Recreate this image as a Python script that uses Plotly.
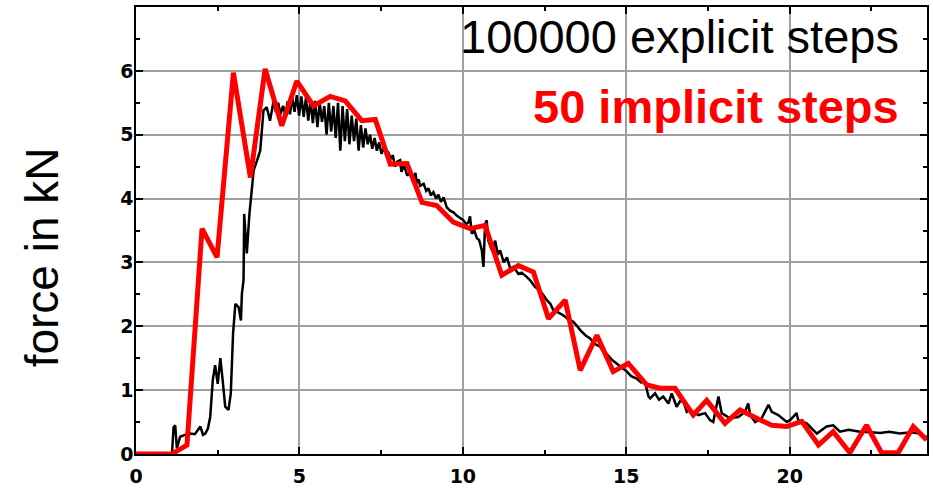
import plotly.graph_objects as go

# 50 implicit steps (red)
imp_x = [0.0, 1.1, 1.56, 2.02, 2.48, 2.98, 3.5, 3.95, 4.46, 4.92, 5.43, 5.94, 6.4, 6.91, 7.32,
         7.78, 8.29, 8.75, 9.2, 9.71, 10.22, 10.68, 11.19, 11.7, 12.16, 12.62, 13.13, 13.59,
         14.1, 14.6, 15.06, 15.63, 16.03, 16.49, 17.05, 17.46, 18.02, 18.48, 18.99, 19.45,
         19.91, 20.37, 20.88, 21.33, 21.84, 22.35, 22.81, 23.32, 23.78, 24.19]
imp_y = [0.0, 0.0, 0.14, 3.53, 3.08, 5.97, 4.33, 6.03, 5.14, 5.84, 5.45, 5.6, 5.53, 5.22, 5.24,
         4.54, 4.55, 3.94, 3.89, 3.63, 3.53, 3.58, 2.8, 2.95, 2.85, 2.12, 2.41, 1.31,
         1.86, 1.29, 1.42, 1.08, 1.03, 1.03, 0.61, 0.84, 0.48, 0.69, 0.56, 0.45,
         0.43, 0.51, 0.14, 0.35, 0.02, 0.45, 0.02, 0.02, 0.43, 0.22]

# 100000 explicit steps (black)
exp_x = [0.0, 1.1, 1.15, 1.2, 1.25, 1.35, 1.5, 1.66, 1.8, 1.97, 2.05, 2.12, 2.2, 2.27, 2.35, 2.42,
         2.5, 2.58, 2.65, 2.73, 2.83, 2.9, 2.97, 3.04, 3.14, 3.21, 3.24, 3.29, 3.31, 3.39,
         3.47, 3.6, 3.7, 3.8, 3.9, 4.0, 4.1, 4.21, 4.28, 4.35, 4.42, 4.5, 4.57, 4.64, 4.71,
         4.78, 4.85, 4.92, 4.99, 5.06, 5.13, 5.2, 5.27, 5.34, 5.41, 5.48, 5.55, 5.62, 5.69,
         5.76, 5.83, 5.9, 5.97, 6.04, 6.11, 6.18, 6.25, 6.32, 6.39, 6.46, 6.53, 6.6, 6.67,
         6.74, 6.81, 6.88, 6.95, 7.02, 7.09, 7.16, 7.23, 7.3, 7.37, 7.44, 7.51, 7.58, 7.65,
         7.72, 7.8, 7.86, 7.92, 8.0, 8.08, 8.12, 8.2, 8.3, 8.4, 8.49, 8.55, 8.59, 8.65, 8.69,
         8.8, 8.88, 8.95, 9.02, 9.1, 9.18, 9.25, 9.33, 9.41, 9.51, 9.61, 9.72, 9.82, 9.92,
         10.02, 10.1, 10.17, 10.22, 10.27, 10.35, 10.43, 10.5, 10.58, 10.63, 10.68,
         10.73, 10.78, 10.89, 10.99, 11.07, 11.14, 11.25, 11.35, 11.45, 11.55, 11.7, 11.8,
         11.96, 12.06, 12.2, 12.36, 12.45, 12.57, 12.68, 12.77, 12.9, 13.08, 13.2, 13.38,
         13.5, 13.59, 13.75, 13.89, 14.05, 14.2, 14.3, 14.4, 14.55, 14.71, 14.85, 15.02,
         15.15, 15.32, 15.45, 15.57, 15.68, 15.73, 15.88, 16.0, 16.13, 16.29, 16.39, 16.54,
         16.65, 16.75, 16.85, 16.95, 17.1, 17.21, 17.41, 17.56, 17.66, 17.82, 17.92, 18.17,
         18.43, 18.63, 18.73, 18.79, 18.94, 19.14, 19.35, 19.45, 19.65, 19.91, 20.01, 20.21,
         20.26, 20.52, 20.83, 21.13, 21.33, 21.54, 21.8, 22.15, 22.5, 22.76, 23.05, 23.37,
         23.7, 23.98, 24.14, 24.2]
exp_y = [0.0, 0.0, 0.42, 0.45, 0.09, 0.27, 0.3, 0.32, 0.31, 0.43, 0.3, 0.32, 0.4, 0.58, 1.16, 1.39,
         1.1, 1.5, 1.16, 0.74, 0.69, 0.95, 1.89, 2.35, 2.3, 2.09, 2.51, 2.72, 3.76, 3.14,
         3.76, 4.44, 4.59, 4.75, 5.38, 5.43, 5.22, 5.53, 5.35, 5.5, 5.32, 5.45, 5.3, 5.52, 5.32,
         5.58, 5.36, 5.62, 5.3, 5.6, 5.28, 5.58, 5.22, 5.55, 5.18, 5.53, 5.12, 5.5, 5.2,
         5.45, 5.0, 5.5, 5.05, 5.45, 4.95, 5.5, 4.75, 5.45, 4.9, 5.4, 4.85, 5.3, 4.9,
         5.25, 4.75, 5.15, 4.8, 5.1, 4.85, 5.0, 4.78, 4.95, 4.75, 4.88, 4.7, 4.8, 4.7,
         4.72, 4.62, 4.68, 4.5, 4.58, 4.6, 4.42, 4.52, 4.36, 4.42, 4.32, 4.4, 4.24, 4.3, 4.2,
         4.23, 4.12, 4.16, 4.05, 4.1, 4.0, 4.06, 3.95, 4.02, 3.86, 3.81, 3.78, 3.73, 3.7,
         3.66, 3.6, 3.63, 3.72, 3.45, 3.5, 3.38, 3.35, 3.19, 2.93, 3.6,
         3.66, 3.34, 3.19, 3.34, 3.12, 3.19, 3.0, 3.08, 2.9, 2.93, 2.82, 2.84,
         2.77, 2.72, 2.62, 2.56, 2.5, 2.41, 2.35, 2.25, 2.22, 2.17, 2.12, 2.07,
         2.0, 1.94, 1.86, 1.81, 1.72, 1.68, 1.6, 1.57, 1.48, 1.42, 1.36, 1.29,
         1.22, 1.18, 1.12, 1.13, 0.9, 0.87, 0.95, 0.85, 0.9, 0.79, 0.95, 0.74,
         0.83, 0.82, 0.66, 0.69, 0.64, 0.61, 0.64, 0.53, 0.5, 0.9, 0.64, 0.56,
         0.58, 0.66, 0.79, 0.61, 0.5, 0.56, 0.77, 0.66, 0.61, 0.5, 0.53, 0.64,
         0.53, 0.48, 0.32, 0.43, 0.45, 0.35, 0.38, 0.35, 0.34, 0.33, 0.35, 0.32,
         0.34, 0.32, 0.27, 0.27]

x_ticks = [0, 5, 10, 15, 20]
y_ticks = [0, 1, 2, 3, 4, 5, 6]
label_explicit = "100000 explicit steps"
label_implicit = "50 implicit steps"
y_title = "force in kN"

fig = go.Figure()
fig.add_trace(go.Scatter(x=exp_x, y=exp_y, mode="lines",
                         line=dict(color="black", width=2.5), showlegend=False))
fig.add_trace(go.Scatter(x=imp_x, y=imp_y, mode="lines",
                         line=dict(color="#ff0000", width=5), showlegend=False))

tickfont = dict(family="DejaVu Sans", size=19, color="black", weight="bold")
fig.update_xaxes(range=[0, 24.2], tickvals=x_ticks, showgrid=True, gridcolor="#a0a0a0",
                 gridwidth=1.5, zeroline=False, showline=True, linecolor="black", linewidth=1.5,
                 mirror="ticks", ticks="inside", ticklen=7, tickwidth=1.5, tickcolor="black",
                 tickfont=tickfont, ticklabelstandoff=4, automargin=False,
                 minor=dict(tickvals=[2.5, 7.5, 12.5, 17.5, 22.5], ticks="inside", ticklen=4,
                            tickwidth=1.5, tickcolor="black", showgrid=False))
fig.update_yaxes(range=[0, 7], tickvals=y_ticks, showgrid=True, gridcolor="#a0a0a0",
                 gridwidth=1.5, zeroline=False, showline=True, linecolor="black", linewidth=1.5,
                 mirror="ticks", ticks="inside", ticklen=7, tickwidth=1.5, tickcolor="black",
                 tickfont=tickfont, ticklabelstandoff=-3, automargin=False,
                 minor=dict(tickvals=[0.5, 1.5, 2.5, 3.5, 4.5, 5.5, 6.5], ticks="inside",
                            ticklen=4, tickwidth=1.5, tickcolor="black", showgrid=False))

fig.add_annotation(text=label_explicit, xref="paper", yref="paper", x=0.967, y=0.933,
                   xanchor="right", yanchor="middle", showarrow=False,
                   font=dict(family="Liberation Sans", size=47, color="black"))
fig.add_annotation(text=label_implicit, xref="paper", yref="paper", x=0.967, y=0.777,
                   xanchor="right", yanchor="middle", showarrow=False,
                   font=dict(family="Liberation Sans", size=47, color="#ff0000", weight="bold"))
fig.add_annotation(text=y_title, xref="paper", yref="paper", x=(42 - 136) / 791, y=0.44,
                   xanchor="center", yanchor="middle", textangle=-90, showarrow=False,
                   font=dict(family="Liberation Sans", size=46, color="black"))

fig.update_layout(width=933, height=491, autosize=False,
                  margin=dict(l=136, r=6, t=7, b=37, autoexpand=False),
                  plot_bgcolor="white", paper_bgcolor="white")

fig.write_html("out.html")
